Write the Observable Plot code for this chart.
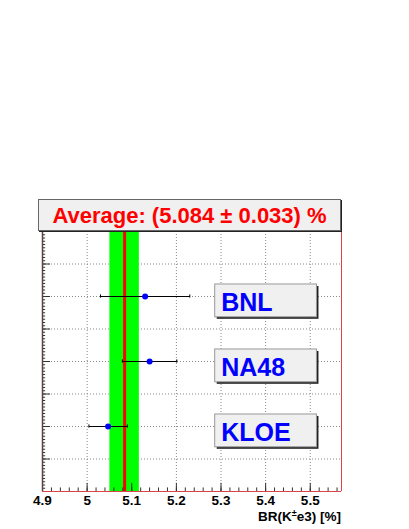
<!DOCTYPE html>
<html>
<head>
<meta charset="utf-8">
<script src="https://cdn.jsdelivr.net/npm/d3@7"></script>
<script src="https://cdn.jsdelivr.net/npm/@observablehq/plot@0.6"></script>
<style>
  html, body { margin: 0; padding: 0; background: #fff; }
  #wrap { position: relative; width: 409px; height: 529px; overflow: hidden; font-family: "Liberation Sans", Arial, sans-serif; }
  #title {
    position: absolute; left: 38px; top: 199px; width: 303px; height: 32px; box-sizing: border-box;
    background: #f0f0f0; border: 1px solid #666; box-shadow: 1px 1px 0 #222;
    display: flex; align-items: center; justify-content: center;
    color: #ff0000; font-weight: bold; font-size: 22px; padding-top: 1px;
  }
  #xlabel {
    position: absolute; right: 68px; top: 509px; font-weight: bold; font-size: 13.5px; line-height: 16px; color: #000; white-space: nowrap;
  }
  #xlabel sup { font-size: 9px; vertical-align: 5px; line-height: 0; }
</style>
</head>
<body>
<div id="wrap"></div>
<script>
// ---- data ----
const experiments = ["BNL", "NA48", "KLOE"];
const rows = [6, 4, 2];
const values = [5.13, 5.14, 5.047];
const errors = [0.10, 0.061, 0.043];
const average = 5.084;
const averageErr = 0.033;
const xTicks = [4.9, 5, 5.1, 5.2, 5.3, 5.4, 5.5];
const xTickLabels = ["4.9", "5", "5.1", "5.2", "5.3", "5.4", "5.5"];
const yGrid = [1, 2, 3, 4, 5, 6, 7];
const titleText = "Average: (5.084 \u00B1 0.033) %";

// ---- derived tables ----
const xDomain = [4.9, 5.57];
const yDomain = [0, 8];
const data = experiments.map((name, i) => ({name, y: rows[i], x: values[i], lo: values[i] - errors[i], hi: values[i] + errors[i]}));
const tickData = xTicks.map((x, i) => ({x, label: xTickLabels[i]}));
const xMinor = d3.range(0, 34).map(i => +(4.9 + i * 0.02).toFixed(3)).filter(v => v <= xDomain[1]);
const yMinor = d3.range(1, 80).map(i => +(i * 0.1).toFixed(2));
const labelX1 = 5.287, labelX2 = 5.515;

const plot = Plot.plot({
  width: 409,
  height: 529,
  marginLeft: 42,
  marginRight: 68,
  marginTop: 231,
  marginBottom: 38,
  style: {fontFamily: "Liberation Sans, Arial, sans-serif", background: "transparent"},
  x: {domain: xDomain, axis: null},
  y: {domain: yDomain, axis: null},
  marks: [
    // grid
    Plot.ruleX(xTicks.filter(v => v > xDomain[0]), {stroke: "#888", strokeDasharray: "1,2", strokeWidth: 1}),
    Plot.ruleY(yGrid, {stroke: "#888", strokeDasharray: "1,2", strokeWidth: 1}),
    // average band and line
    Plot.rect([{x1: average - averageErr, x2: average + averageErr}], {x1: "x1", x2: "x2", y1: yDomain[0], y2: yDomain[1], fill: "#00ff00"}),
    Plot.ruleX([average], {stroke: "#ff0000", strokeWidth: 3}),
    // error bars
    Plot.link(data, {x1: "lo", x2: "hi", y1: "y", y2: "y", stroke: "#000", strokeWidth: 1}),
    Plot.ruleX(data, {x: "lo", y1: d => d.y - 0.05, y2: d => d.y + 0.05, stroke: "#000"}),
    Plot.ruleX(data, {x: "hi", y1: d => d.y - 0.05, y2: d => d.y + 0.05, stroke: "#000"}),
    Plot.dot(data, {x: "x", y: "y", r: 3, fill: "#0000ff", stroke: "none"}),
    // label boxes
    Plot.rect(data, {x1: labelX1, x2: labelX2, y1: d => d.y - 0.64, y2: d => d.y + 0.37, fill: "#222", dx: 2, dy: 2}),
    Plot.rect(data, {x1: labelX1, x2: labelX2, y1: d => d.y - 0.64, y2: d => d.y + 0.37, fill: "#f0f0f0", stroke: "#999", strokeWidth: 1}),
    Plot.text(data, {x: labelX1, y: d => d.y - 0.45, text: "name", textAnchor: "start", lineAnchor: "bottom", dx: 6, fill: "#0000ff", fontSize: 25, fontWeight: "bold"}),
    // ticks (inward)
    Plot.ruleX(xMinor, {y1: 0, y2: 0.11, stroke: "#333", strokeWidth: 1}),
    Plot.ruleX(xTicks, {y1: 0, y2: 0.25, stroke: "#333", strokeWidth: 1}),
    Plot.ruleY(yMinor, {x1: xDomain[0], x2: xDomain[0] + 0.007, stroke: "#333", strokeWidth: 1}),
    Plot.ruleY(yGrid, {x1: xDomain[0], x2: xDomain[0] + 0.018, stroke: "#333", strokeWidth: 1}),
    // frame
    Plot.ruleY([yDomain[0]], {stroke: "#dd4444", strokeWidth: 1}),
    Plot.ruleX([xDomain[1]], {stroke: "#dd4444", strokeWidth: 1}),
    Plot.ruleX([xDomain[0]], {stroke: "#554444", strokeWidth: 1.5}),
    Plot.ruleY([yDomain[1]], {stroke: "#333", strokeWidth: 1}),
    // tick labels
    Plot.text(tickData, {x: "x", text: "label", frameAnchor: "bottom", lineAnchor: "top", dy: 4, fontSize: 13.5, fontWeight: "bold", fill: "#000"})
  ]
});

const wrap = document.getElementById("wrap");
plot.style.position = "absolute";
plot.style.left = "0px";
plot.style.top = "0px";
wrap.appendChild(plot);

const title = document.createElement("div");
title.id = "title";
title.textContent = titleText;
wrap.appendChild(title);

const xl = document.createElement("div");
xl.id = "xlabel";
xl.innerHTML = "BR(K<sup>\u00B1</sup>e3) [%]";
wrap.appendChild(xl);
</script>
</body>
</html>
